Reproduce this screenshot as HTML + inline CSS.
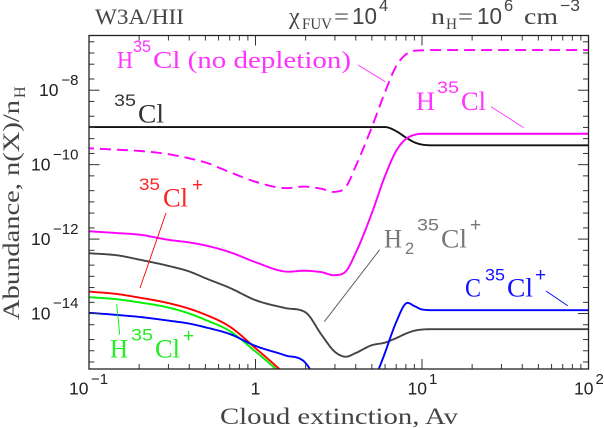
<!DOCTYPE html>
<html lang="en">
<head>
<meta charset="utf-8">
<title>W3A/HII chlorine abundance chart</title>
<style>
html,body{margin:0;padding:0;background:#fff;width:604px;height:428px;overflow:hidden}
svg{display:block}
text{font-family:"Liberation Serif",serif;font-size:23px}
.lbl{font-size:26px}
.iso{font-family:"Liberation Sans",sans-serif;font-size:17px}
.plus{font-family:"Liberation Sans",sans-serif;font-size:19px}
.num{font-family:"Liberation Sans",sans-serif;font-size:23px}
.exp{font-family:"Liberation Sans",sans-serif;font-size:16.5px}
.sub{font-size:16px}
.curve{fill:none;stroke-width:1.9;stroke-linejoin:round}
.lead{stroke-width:.9;fill:none}
</style>
</head>
<body>
<svg id="chart" xmlns="http://www.w3.org/2000/svg" width="604" height="428" viewBox="0 0 604 428">
  <defs><clipPath id="plot-clip"><rect x="89" y="35.5" width="499.5" height="333.5"/></clipPath></defs>
  <rect width="604" height="428" fill="#fff"/>

  <g id="curves" clip-path="url(#plot-clip)">
    <path id="s-cl" class="curve" stroke="#111"/>
    <path id="s-nodep" class="curve" stroke="#f0f" stroke-dasharray="11 6" stroke-dashoffset="6"/>
    <path id="s-hcl" class="curve" stroke="#f0f"/>
    <path id="s-h2cl" class="curve" stroke="#444"/>
    <path id="s-clp" class="curve" stroke="#f00"/>
    <path id="s-hclp" class="curve" stroke="#0e0"/>
    <path id="s-ccl" class="curve" stroke="#00f"/>
  </g>

  <g id="ticks" stroke="#333" stroke-width="1"></g>
  <g id="tick-labels" fill="#222"></g>
  <rect x="89" y="35.5" width="499.5" height="333.5" fill="none" stroke="#222" stroke-width="1.3"/>

  <g fill="#444">
    <text x="95" y="24" textLength="89" lengthAdjust="spacingAndGlyphs" style="font-size:22px">W3A/HII</text>
    <text x="289" y="24" style="font-size:24px">χ</text>
    <text class="sub" x="302" y="29" textLength="30" lengthAdjust="spacingAndGlyphs">FUV</text>
    <text x="334" y="24" textLength="15" lengthAdjust="spacingAndGlyphs">=</text>
    <text class="num" x="352" y="24" textLength="25" lengthAdjust="spacingAndGlyphs">10</text>
    <text class="exp" x="379" y="11">4</text>
    <text x="431" y="24" textLength="14" lengthAdjust="spacingAndGlyphs">n</text>
    <text class="sub" x="446" y="29" textLength="11" lengthAdjust="spacingAndGlyphs">H</text>
    <text x="458" y="24" textLength="15" lengthAdjust="spacingAndGlyphs">=</text>
    <text class="num" x="477" y="24" textLength="25" lengthAdjust="spacingAndGlyphs">10</text>
    <text class="exp" x="504" y="11">6</text>
    <text x="524" y="24" textLength="34" lengthAdjust="spacingAndGlyphs">cm</text>
    <text class="exp" x="560" y="11" textLength="20" lengthAdjust="spacingAndGlyphs">−3</text>
  </g>

  <text x="220" y="424" textLength="238" lengthAdjust="spacingAndGlyphs" fill="#444">Cloud extinction, Av</text>
  <g fill="#444">
    <text transform="translate(19 320) rotate(-90)" textLength="220" lengthAdjust="spacingAndGlyphs">Abundance, n(X)/n</text>
    <text class="sub" transform="translate(25 98) rotate(-90)">H</text>
  </g>

  <g fill="#f3f">
    <text x="117" y="68" textLength="16" lengthAdjust="spacingAndGlyphs" style="font-size:24px">H</text>
    <text class="iso" x="133" y="52" textLength="18" lengthAdjust="spacingAndGlyphs">35</text>
    <text x="153" y="68" textLength="198" lengthAdjust="spacingAndGlyphs" style="font-size:24px">Cl (no depletion)</text>
    <line class="lead" stroke="#f3f" x1="358" y1="65" x2="385.3" y2="81.7"/>
  </g>
  <g fill="#333">
    <text class="iso" x="114" y="106" textLength="22" lengthAdjust="spacingAndGlyphs">35</text>
    <text class="lbl" x="138" y="122.7" textLength="26" lengthAdjust="spacingAndGlyphs">Cl</text>
  </g>
  <g fill="#f3f">
    <text class="lbl" x="416" y="110" textLength="19" lengthAdjust="spacingAndGlyphs">H</text>
    <text class="iso" x="437" y="93" textLength="22" lengthAdjust="spacingAndGlyphs">35</text>
    <text class="lbl" x="461" y="110" textLength="25" lengthAdjust="spacingAndGlyphs">Cl</text>
    <line class="lead" stroke="#f3f" x1="491" y1="106.7" x2="523.7" y2="127.7"/>
  </g>
  <g fill="#f22">
    <text class="iso" x="139" y="190" textLength="21" lengthAdjust="spacingAndGlyphs">35</text>
    <text class="lbl" x="163" y="206.7" textLength="25" lengthAdjust="spacingAndGlyphs">Cl</text>
    <text class="plus" x="192" y="191">+</text>
    <line class="lead" stroke="#f00" x1="166" y1="213" x2="140" y2="288"/>
  </g>
  <g fill="#2e2">
    <text class="lbl" x="110" y="357.3" textLength="18" lengthAdjust="spacingAndGlyphs">H</text>
    <text class="iso" x="131" y="340.7" textLength="22" lengthAdjust="spacingAndGlyphs">35</text>
    <text class="lbl" x="155" y="357.3" textLength="25" lengthAdjust="spacingAndGlyphs">Cl</text>
    <text class="plus" x="183" y="342">+</text>
    <line class="lead" stroke="#0e0" x1="116.7" y1="304" x2="119.7" y2="334.7"/>
  </g>
  <g fill="#777">
    <text class="lbl" x="384" y="247.3" textLength="18" lengthAdjust="spacingAndGlyphs">H</text>
    <text class="exp" x="405" y="254">2</text>
    <text class="iso" x="417" y="230.7" textLength="22" lengthAdjust="spacingAndGlyphs">35</text>
    <text class="lbl" x="441" y="247.3" textLength="26" lengthAdjust="spacingAndGlyphs">Cl</text>
    <text class="plus" x="470" y="231">+</text>
    <line class="lead" stroke="#555" x1="379.7" y1="249.7" x2="324.3" y2="321.7"/>
  </g>
  <g fill="#11f">
    <text class="lbl" x="465" y="296.7" textLength="16" lengthAdjust="spacingAndGlyphs">C</text>
    <text class="iso" x="485" y="280.7" textLength="20" lengthAdjust="spacingAndGlyphs">35</text>
    <text class="lbl" x="507" y="296.7" textLength="26" lengthAdjust="spacingAndGlyphs">Cl</text>
    <text class="plus" x="535" y="281">+</text>
    <line class="lead" stroke="#00f" x1="546" y1="291" x2="567.7" y2="305.7"/>
  </g>
</svg>

<script>
// Shared cloud extinction grid (Av)
const avGrid = [0.1,0.15,0.2,0.3,0.4,0.5,0.7,1,1.5,2,2.5,3,3.5,4,5,6,7,8,9,10,12,15,20,100];

// log10 abundance per species
const logCl = [-8.99,-8.99,-8.99,-8.99,-8.99,-8.99,-8.99,-8.99,-8.99,-8.99,-8.99,-8.99,-8.99,-8.99,-8.99,-8.99,-9.10,-9.27,-9.40,-9.46,-9.48,-9.48,-9.48,-9.48];
const logNoDepletion = [-9.56,-9.60,-9.63,-9.72,-9.83,-9.94,-10.20,-10.46,-10.63,-10.59,-10.65,-10.73,-10.59,-10.04,-8.99,-8.05,-7.35,-7.04,-6.94,-6.93,-6.92,-6.92,-6.92,-6.92];
const logHCl = [-11.79,-11.84,-11.88,-12.02,-12.09,-12.17,-12.35,-12.62,-12.87,-12.85,-12.89,-12.97,-12.86,-12.37,-11.30,-10.30,-9.63,-9.31,-9.20,-9.17,-9.17,-9.17,-9.17,-9.17];
const logH2Cl = [-12.38,-12.44,-12.55,-12.72,-12.87,-13.05,-13.31,-13.64,-13.85,-13.97,-14.58,-15.03,-15.16,-15.06,-14.85,-14.78,-14.66,-14.54,-14.46,-14.43,-14.42,-14.42,-14.42,-14.42];
const logClPlus = [-13.41,-13.48,-13.57,-13.72,-13.87,-14.03,-14.35,-14.93,-15.63,-16.19];
const logHClPlus = [-13.56,-13.62,-13.70,-13.84,-14.00,-14.17,-14.47,-15.02,-15.71,-16.27];
const logCClPlus = [-13.98,-14.04,-14.09,-14.19,-14.27,-14.37,-14.55,-14.87,-15.12,-15.33,-16.33,-17.94,-19.02,-18.20,-16.06,-15.05,-14.23,-13.73,-13.80,-13.89,-13.91,-13.91,-13.91,-13.91];

// Axis tick data
const xMajorExponents = [-1,0,1,2];
const xTickLabels = ["10","1","10","10"];
const xTickSuperscripts = ["−1","","1","2"];
const xMinorMantissas = [2,3,4,5,6,7,8,9];
const yTickExponents = [-8,-10,-12,-14];
const yTickLabels = ["−8","−10","−12","−14"];
const yMinorMantissas = [1,2,5];
const yDecades = [-16,-15,-14,-13,-12,-11,-10,-9,-8,-7];

const SVGNS = "http://www.w3.org/2000/svg";
const plot = {left:89,right:588.5,top:35.5,bottom:369};
const xDomain = [-1,2];
const yDomain = [-6.53,-15.49];
function xScale(logAv){return plot.left+(logAv-xDomain[0])/(xDomain[1]-xDomain[0])*(plot.right-plot.left);}
function yScale(logN){return plot.top+(logN-yDomain[0])/(yDomain[1]-yDomain[0])*(plot.bottom-plot.top);}

function curvePath(values){
  const px=[],py=[];
  values.forEach(function(v,i){px.push(xScale(Math.log10(avGrid[i])));py.push(yScale(v));});
  const n=px.length,sl=[],d=[];
  for(let i=0;i<n-1;i++)sl.push((py[i+1]-py[i])/(px[i+1]-px[i]));
  d.push(sl[0]);
  for(let i=1;i<n-1;i++){
    const h0=px[i]-px[i-1],h1=px[i+1]-px[i];
    if(sl[i-1]===0||sl[i]===0){d.push(0);continue;}
    let m=(h1*sl[i-1]+h0*sl[i])/(h0+h1);
    if(sl[i-1]*sl[i]>0){
      const lim=3*Math.min(Math.abs(sl[i-1]),Math.abs(sl[i]));
      if(Math.abs(m)>lim)m=Math.sign(m)*lim;
    }
    d.push(m);
  }
  d.push(sl[n-2]);
  const floor=plot.bottom+6;
  let s="";
  for(let i=0;i<n-1;i++){
    const h=px[i+1]-px[i];
    const steps=Math.min(24,Math.max(4,Math.ceil(h/1.5)));
    for(let k=(i===0?0:1);k<=steps;k++){
      const t=k/steps,t2=t*t,t3=t2*t;
      const yv=(2*t3-3*t2+1)*py[i]+(t3-2*t2+t)*h*d[i]+(-2*t3+3*t2)*py[i+1]+(t3-t2)*h*d[i+1];
      const xv=px[i]+t*h;
      s+=(s===""?"M":"L")+xv.toFixed(2)+" "+Math.min(yv,floor).toFixed(2);
    }
  }
  return s;
}
document.getElementById("s-cl").setAttribute("d",curvePath(logCl));
document.getElementById("s-nodep").setAttribute("d",curvePath(logNoDepletion));
document.getElementById("s-hcl").setAttribute("d",curvePath(logHCl));
document.getElementById("s-h2cl").setAttribute("d",curvePath(logH2Cl));
document.getElementById("s-clp").setAttribute("d",curvePath(logClPlus));
document.getElementById("s-hclp").setAttribute("d",curvePath(logHClPlus));
document.getElementById("s-ccl").setAttribute("d",curvePath(logCClPlus));

const tickGroup=document.getElementById("ticks");
const labelGroup=document.getElementById("tick-labels");

function addTickLine(x1,y1,x2,y2,name){
  const el=document.createElementNS(SVGNS,"line");
  el.setAttribute("x1",x1);el.setAttribute("y1",y1);el.setAttribute("x2",x2);el.setAttribute("y2",y2);
  
  
  tickGroup.appendChild(el);
}
function addLabel(str,x,y,size,anchor,name){
  const el=document.createElementNS(SVGNS,"text");
  el.setAttribute("x",x);el.setAttribute("y",y);
  el.setAttribute("text-anchor",anchor);
  el.setAttribute("style","font-family:'Liberation Sans',sans-serif;font-size:"+size+"px");
  el.textContent=str;
  
  
  labelGroup.appendChild(el);
}

// X ticks (top and bottom)
xMajorExponents.forEach(function(e,i){
  const x=xScale(e);
  if(i>0&&i<xMajorExponents.length-1){
    addTickLine(x,plot.bottom,x,plot.bottom-10,"x-major-tick-bottom");
    addTickLine(x,plot.top,x,plot.top+10,"x-major-tick-top");
  }
  if(i<xMajorExponents.length-1){
    xMinorMantissas.forEach(function(m){
      const xm=xScale(e+Math.log10(m));
      addTickLine(xm,plot.bottom,xm,plot.bottom-5,"x-minor-tick-bottom");
      addTickLine(xm,plot.top,xm,plot.top+5,"x-minor-tick-top");
    });
  }
  if(xTickSuperscripts[i]===""){
    addLabel(xTickLabels[i],x,394.7,17.5,"middle","x-tick-label");
  }else if(i===0){
    addLabel(xTickLabels[i],x-0.5,394.7,17.5,"end","x-tick-label");
    addLabel(xTickSuperscripts[i],x+2,384,15,"start","x-tick-exponent");
  }else{
    addLabel(xTickLabels[i],x+5,394.7,17.5,"end","x-tick-label");
    addLabel(xTickSuperscripts[i],x+7,384,15,"start","x-tick-exponent");
  }
});

// Y ticks (left and right)
yDecades.forEach(function(e){
  yMinorMantissas.forEach(function(m){
    const v=e+Math.log10(m);
    if(v>yDomain[0]||v<yDomain[1])return;
    const y=yScale(v);
    const long=(m===1&&yTickExponents.indexOf(e)>=0);
    const len=long?10.5:5.5;
    addTickLine(plot.left,y,plot.left+len,y,"y-tick-left");
    addTickLine(plot.right,y,plot.right-len,y,"y-tick-right");
  });
});
yTickExponents.forEach(function(e,i){
  const y=yScale(e);
  const supStr=yTickLabels[i];
  const baseEnd=supStr.length>2?50.5:58.5;
  addLabel("10",baseEnd,y+6,17.5,"end","y-tick-label");
  addLabel(supStr,78.5,y-5.3,15,"end","y-tick-exponent");
});
</script>
</body>
</html>
